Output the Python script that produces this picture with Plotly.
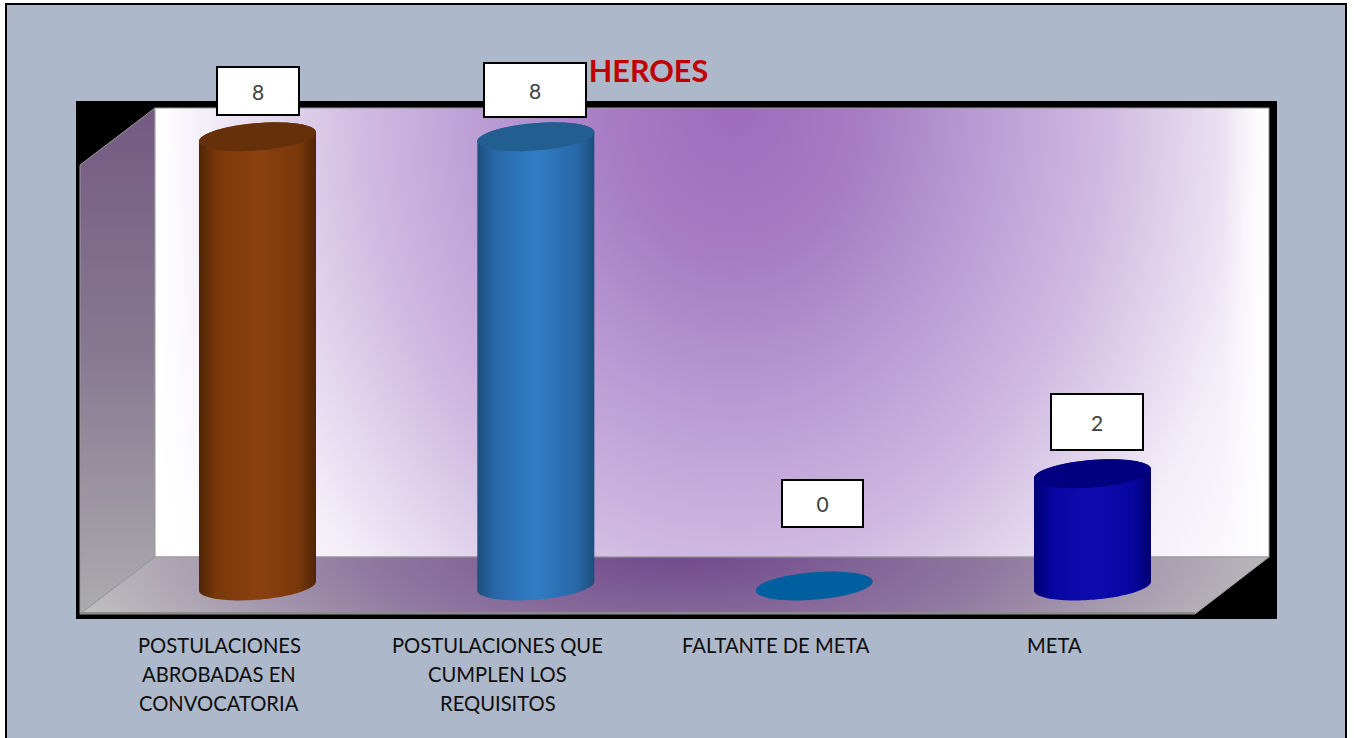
import base64

import numpy as np
from plotly import graph_objects as go

# --- Data ---
categories = [
    ["POSTULACIONES", "ABROBADAS EN", "CONVOCATORIA"],
    ["POSTULACIONES QUE", "CUMPLEN LOS", "REQUISITOS"],
    ["FALTANTE DE META"],
    ["META"],
]
values = [8, 8, 0, 2]

# --- Styling per bar: edge, shoulder, centre, cap ---
bar_colors = [
    ("#4F2506", "#7A380A", "#8C4010", "#66300A"),
    ("#1D4E7C", "#2868A8", "#307DC4", "#235E90"),
    ("#005F9E", "#005F9E", "#005F9E", "#005F9E"),
    ("#000070", "#0606A0", "#0E0CB0", "#000080"),
]
# label box width, height, x and y shift in pixels
box_widths = [82, 102, 81, 92]
box_heights = [48, 54, 47, 56]
box_dx = [0.5, -1, 8, 5]
box_dy = [-46, -47, -83, -52]

W, H = 1354, 738
PX_PER_CAT = 278.33
PX_PER_UNIT = 56.15
X0, Y0 = 257.5, 586  # pixel of first category at value 0

HALF_W = 58.5 / PX_PER_CAT
CAP_H = 0.245
CAP_TILT = 0.08
LABEL_SHIFT = -0.137
LABEL_TOP = -1.05
LABEL_STEP = 0.5165


def cap_points(i, v, t):
    return i + HALF_W * np.cos(t), v + CAP_TILT * np.cos(t) + CAP_H * np.sin(t)


def background_uri():
    svg = f"""<svg xmlns="http://www.w3.org/2000/svg" width="{W}" height="{H}" viewBox="0 0 {W} {H}">
<defs>
<radialGradient id="back" gradientUnits="userSpaceOnUse" cx="0" cy="0" r="1" gradientTransform="translate(735 100) scale(662 830)">
<stop offset="0" stop-color="#9C6CBB"/><stop offset="0.19" stop-color="#A67CC4"/>
<stop offset="0.4" stop-color="#BDA0D6"/><stop offset="0.55" stop-color="#CFB8E0"/>
<stop offset="0.7" stop-color="#E4D8EE"/><stop offset="0.8" stop-color="#F3EEF8"/><stop offset="1" stop-color="#FFFFFF"/>
</radialGradient>
<linearGradient id="edgeL" x1="0" y1="0" x2="1" y2="0">
<stop offset="0" stop-color="#FFF" stop-opacity="1"/><stop offset="1" stop-color="#FFF" stop-opacity="0"/>
</linearGradient>
<linearGradient id="edgeR" x1="1" y1="0" x2="0" y2="0">
<stop offset="0" stop-color="#FFF" stop-opacity="1"/><stop offset="1" stop-color="#FFF" stop-opacity="0"/>
</linearGradient>
<radialGradient id="floor" gradientUnits="userSpaceOnUse" cx="0" cy="0" r="1" gradientTransform="translate(680 550) scale(620 190)">
<stop offset="0" stop-color="#70468C"/><stop offset="0.5" stop-color="#8F779F"/><stop offset="1" stop-color="#BEBEBE"/>
</radialGradient>
<linearGradient id="side" x1="0" y1="0" x2="0" y2="1">
<stop offset="0" stop-color="#745A82"/><stop offset="0.5" stop-color="#887A92"/><stop offset="1" stop-color="#ACACAE"/>
</linearGradient>
</defs>
<rect x="6" y="4" width="1340" height="740" fill="#ADB9CA" stroke="#000" stroke-width="2"/>
<rect x="76" y="101" width="1201" height="518" fill="#000"/>
<polygon points="80,165 155,108 155,557 80,614" fill="url(#side)" stroke="#999" stroke-width="1"/>
<rect x="155" y="108" width="1114" height="449" fill="url(#back)" stroke="#999" stroke-width="1"/>
<rect x="156" y="109" width="45" height="447" fill="url(#edgeL)"/>
<rect x="1223" y="109" width="45" height="447" fill="url(#edgeR)"/>
<polygon points="155,557 1269,557 1195,614 80,614" fill="url(#floor)" stroke="#999" stroke-width="1"/>
<rect x="80" y="612" width="1115" height="2" fill="#8C8C8C"/>
</svg>"""
    return "data:image/svg+xml;base64," + base64.b64encode(svg.encode()).decode()


fig = go.Figure()

t_down = np.linspace(np.pi, 2 * np.pi, 60)
t_up = np.linspace(0, np.pi, 60)
t_all = np.linspace(0, 2 * np.pi, 120)

for i, v in enumerate(values):
    edge, shoulder, mid, cap = bar_colors[i]
    if v > 0:
        # cylinder body: front half of the base, then back over the top
        bx, by = cap_points(i, 0, t_down)
        tx, ty = cap_points(i, v, t_up)
        fig.add_trace(go.Scatter(
            x=np.concatenate([bx, tx]), y=np.concatenate([by, ty]),
            mode="none", fill="toself", showlegend=False, hoverinfo="skip",
            fillgradient=dict(
                type="horizontal",
                start=i - HALF_W, stop=i + HALF_W,
                colorscale=[[0, edge], [0.15, shoulder], [0.5, mid], [0.85, shoulder], [1, edge]],
            ),
        ))
    cx, cy = cap_points(i, v, t_all)
    fig.add_trace(go.Scatter(
        x=cx, y=cy, mode="none", fill="toself", fillcolor=cap,
        showlegend=False, name=str(v), hoverinfo="skip",
    ))

annotations = []
for i, v in enumerate(values):
    annotations.append(dict(
        x=i, y=v, xref="x", yref="y", text=str(v), showarrow=False,
        xshift=box_dx[i], yshift=-box_dy[i],
        width=box_widths[i] - 2, height=box_heights[i] - 2,
        align="center", valign="middle", xanchor="center", yanchor="middle",
        bgcolor="white", bordercolor="black", borderwidth=2, borderpad=0,
        font=dict(family="Lato", size=21, color="#404040"),
    ))
    for k, line in enumerate(categories[i]):
        annotations.append(dict(
            x=i + LABEL_SHIFT, y=LABEL_TOP - k * LABEL_STEP,
            xref="x", yref="y", text=line, showarrow=False,
            xanchor="center", yanchor="middle",
            font=dict(family="Lato", size=20.2, color="#0D0D0D"),
        ))

fig.update_layout(
    width=W, height=H,
    margin=dict(l=0, r=0, t=0, b=0),
    paper_bgcolor="white", plot_bgcolor="rgba(0,0,0,0)",
    title=dict(
        text="<b>HEROES</b>", x=648.5 / W, y=1 - 71 / H,
        xanchor="center", yanchor="middle",
        font=dict(family="Lato", size=30.5, color="#C00000"),
    ),
    xaxis=dict(range=[-X0 / PX_PER_CAT, (W - X0) / PX_PER_CAT], visible=False),
    yaxis=dict(range=[(Y0 - H) / PX_PER_UNIT, Y0 / PX_PER_UNIT], visible=False),
    images=[dict(
        source=background_uri(), xref="paper", yref="paper",
        x=0, y=1, sizex=1, sizey=1, sizing="stretch", layer="below",
        xanchor="left", yanchor="top",
    )],
    annotations=annotations,
)

fig.write_html("out.html", config=dict(displayModeBar=False),
               post_script="document.body.style.margin='0';")
